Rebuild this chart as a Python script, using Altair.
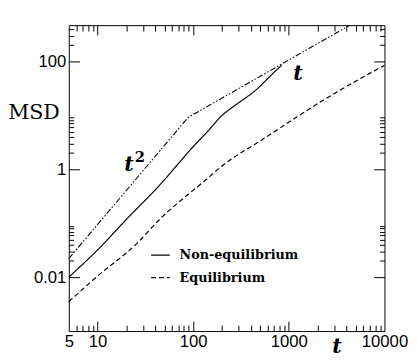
import altair as alt
import pandas as pd

# ---- data ----
neq_t = [5, 10, 20.4, 48.5, 66.4, 107, 135, 208, 254, 476, 655, 842]
neq_msd = [0.01, 0.032, 0.122, 0.60, 1.15, 3.0, 4.6, 10.6, 13.9, 32, 56, 85]

eq_t = [5, 10, 25, 45, 130, 210, 516, 2500, 10000]
eq_msd = [0.0035, 0.0105, 0.040, 0.12, 0.6, 1.23, 3.47, 21, 85]

guide_t = [5, 88, 4345]
guide_msd = [0.022, 9.1, 470]

series_names = ["Non-equilibrium", "Equilibrium", "guide"]

x_labels = [5, 10, 100, 1000, 10000]
y_labels = [0.01, 1, 100]
x_major = [10, 100, 1000]
x_minor = [6, 7, 8, 9, 20, 30, 40, 50, 60, 70, 80, 90,
           200, 300, 400, 500, 600, 700, 800, 900,
           2000, 3000, 4000, 5000, 6000, 7000, 8000, 9000]
y_major = [0.01, 1, 100]
y_minor = [0.02, 0.03, 0.04, 0.05, 0.06, 0.07, 0.08, 0.09,
           2, 3, 4, 5, 6, 7, 8, 9, 200, 300, 400]

ann_t = [21.3, 1250]
ann_msd = [0.92, 45.9]
ann_text = ["t", "t"]
sup_t = [27.7]
sup_msd = [1.34]
sup_text = ["2"]

# ---- frames ----
df = pd.DataFrame({
    "t": neq_t + eq_t + guide_t,
    "msd": neq_msd + eq_msd + guide_msd,
    "series": [series_names[0]] * len(neq_t) + [series_names[1]] * len(eq_t) + [series_names[2]] * len(guide_t),
})
curves_df = df[df["series"] != "guide"]
guide_df = df[df["series"] == "guide"]
ann_df = pd.DataFrame({"t": ann_t, "msd": ann_msd, "label": ann_text})
sup_df = pd.DataFrame({"t": sup_t, "msd": sup_msd, "label": sup_text})

W, H = 322, 312
xscale = alt.Scale(type="log", domain=[5, 10000], nice=False)
yscale = alt.Scale(type="log", domain=[0.001, 470], nice=False)

dash_scale = alt.Scale(domain=series_names, range=[[1, 0], [5, 3], [6, 2, 1.5, 2, 1.5, 2]])

curves = alt.Chart(curves_df).mark_line(color="black", strokeWidth=1.2, interpolate="monotone").encode(
    x=alt.X("t:Q", scale=xscale, axis=alt.Axis(
        orient="bottom", values=x_labels, format="~g", ticks=False, tickSize=0,
        labelPadding=3, labelFlush=False, labelOverlap=False, domain=False, grid=False,
        title="t", titleX=273, titleY=22, titleAlign="center", titleBaseline="alphabetic",
        titleFont="DejaVu Serif", titleFontStyle="italic", titleFontWeight="bold",
        titleFontSize=21, titleColor="black")),
    y=alt.Y("msd:Q", scale=yscale, axis=alt.Axis(
        orient="left", values=y_labels, format="~g", ticks=False, tickSize=0,
        labelPadding=3, labelFlush=False, labelOverlap=False, domain=False, grid=False,
        title="MSD", titleAngle=0, titleX=-36, titleY=95, titleAlign="center",
        titleBaseline="alphabetic", titleFont="DejaVu Serif", titleFontWeight="normal",
        titleFontSize=21, titleColor="black")),
    strokeDash=alt.StrokeDash("series:N", scale=dash_scale,
        legend=alt.Legend(values=series_names[:2], title=None, orient="none",
                          legendX=83, legendY=224, symbolType="stroke", symbolSize=360,
                          symbolStrokeColor="black", symbolStrokeWidth=1.2,
                          labelFont="DejaVu Serif", labelFontWeight="bold", labelFontSize=13,
                          labelColor="black", labelOffset=9, rowPadding=5)),
)

guide = alt.Chart(guide_df).mark_line(color="black", strokeWidth=1.1).encode(
    x=alt.X("t:Q", scale=xscale, axis=None),
    y=alt.Y("msd:Q", scale=yscale, axis=None),
    strokeDash=alt.StrokeDash("series:N", scale=dash_scale, legend=None),
)


def tick_layer(xorient, yorient, xvals, yvals, xsize, ysize):
    return alt.Chart(curves_df).mark_point(opacity=0).encode(
        x=alt.X("t:Q", scale=xscale, axis=alt.Axis(
            orient=xorient, offset=-H, values=xvals, tickSize=xsize, ticks=True,
            tickColor="black", tickWidth=1, labels=False, domain=False, grid=False, title=None)),
        y=alt.Y("msd:Q", scale=yscale, axis=alt.Axis(
            orient=yorient, offset=-W, values=yvals, tickSize=ysize, ticks=True,
            tickColor="black", tickWidth=1, labels=False, domain=False, grid=False, title=None)),
    )


t1 = tick_layer("top", "right", x_major, y_major, 10, 11)
t2 = tick_layer("top", "right", x_minor, y_minor, 6, 5)
t3 = tick_layer("bottom", "left", x_major, y_major, 10, 11)
t4 = tick_layer("bottom", "left", x_minor, y_minor, 6, 5)

ann = alt.Chart(ann_df).mark_text(font="DejaVu Serif", fontStyle="italic", fontWeight="bold",
                                  fontSize=21, color="black", align="center",
                                  baseline="alphabetic").encode(
    x=alt.X("t:Q", scale=xscale, axis=None),
    y=alt.Y("msd:Q", scale=yscale, axis=None),
    text="label:N",
)

sup = alt.Chart(sup_df).mark_text(font="DejaVu Serif", fontWeight="bold",
                                  fontSize=15, color="black", align="center",
                                  baseline="alphabetic").encode(
    x=alt.X("t:Q", scale=xscale, axis=None),
    y=alt.Y("msd:Q", scale=yscale, axis=None),
    text="label:N",
)

chart = alt.layer(curves, guide, t1, t2, t3, t4, ann, sup).resolve_axis(
    x="independent", y="independent"
).properties(
    width=W, height=H,
    autosize=alt.AutoSizeParams(type="none"),
    padding={"left": 62, "top": 14, "right": 25, "bottom": 26},
).configure_view(
    stroke="black", strokeWidth=1
).configure_axis(
    labelFont="Liberation Sans", labelFontSize=17, labelColor="black"
)

chart.save("out.html", embed_options={"renderer": "svg", "actions": False})
